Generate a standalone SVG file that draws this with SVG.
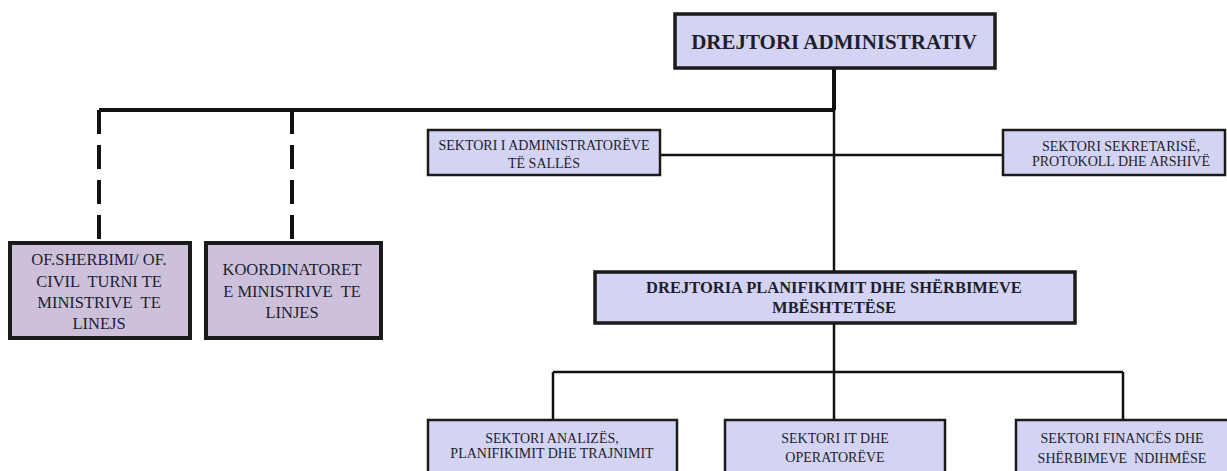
<svg xmlns="http://www.w3.org/2000/svg" width="1227" height="471" viewBox="0 0 1227 471">
<style>
.bg{fill:#ffffff}
.blue{fill:#d3d3f3;stroke:#1a1a1a;stroke-width:2.5}
.main{fill:#d3d3f3;stroke:#1a1a1a;stroke-width:3.5}
.purple{fill:#ccc0da;stroke:#1a1a1a;stroke-width:4}
text{fill:#1e1e2e;text-anchor:middle;white-space:pre}
.b{font-weight:bold}
.s{font-size:14px}
.m{font-size:16.5px}
.c{stroke:#111;fill:none;stroke-width:2.5}
.thick{stroke:#111;fill:none;stroke-width:4}
.dash{stroke:#111;fill:none;stroke-width:4;stroke-dasharray:24 11}
</style>
<rect class="bg" width="1227" height="471"/>
<g id="connectors">
  <path class="thick" d="M834 68 V110 M99 110 H834"/>
  <path class="c" d="M834 110 V272"/>
  <path class="dash" d="M99 110 V243"/>
  <path class="dash" d="M292 110 V243"/>
  <path class="c" d="M660 155 H1003"/>
  <path class="c" d="M834 323 V420 M553 372 H1123 M553 372 V420 M1123 372 V420"/>
</g>
<g font-family="Liberation Serif, Times New Roman, serif">
<g id="n-dir-admin">
  <rect class="main" x="675" y="14" width="320" height="54"/>
  <text class="b" x="834" y="49" font-size="21">DREJTORI ADMINISTRATIV</text>
</g>
<g id="n-ofsherbimi">
  <rect class="purple" x="10" y="243" width="180" height="95"/>
  <text class="m" x="99" y="265">OF.SHERBIMI/ OF.</text>
  <text class="m" x="99" y="287">CIVIL  TURNI TE</text>
  <text class="m" x="99" y="308">MINISTRIVE  TE</text>
  <text class="m" x="99" y="329">LINEJS</text>
</g>
<g id="n-koordinatoret">
  <rect class="purple" x="206" y="243" width="175" height="95"/>
  <text class="m" x="292" y="275">KOORDINATORET</text>
  <text class="m" x="292" y="297">E MINISTRIVE  TE</text>
  <text class="m" x="292" y="318">LINJES</text>
</g>
<g id="n-administratoreve">
  <rect class="blue" x="428" y="130" width="232" height="45"/>
  <text class="s" x="544" y="150">SEKTORI I ADMINISTRATORËVE</text>
  <text class="s" x="544" y="168">TË SALLËS</text>
</g>
<g id="n-sekretarise">
  <rect class="blue" x="1003" y="130" width="222" height="45"/>
  <text class="s" x="1121" y="151">SEKTORI SEKRETARISË,</text>
  <text class="s" x="1121" y="166">PROTOKOLL DHE ARSHIVË</text>
</g>
<g id="n-drejtoria-planifikimit">
  <rect class="main" x="595" y="272" width="480" height="51"/>
  <text class="b" x="834" y="293" font-size="16.5">DREJTORIA PLANIFIKIMIT DHE SHËRBIMEVE</text>
  <text class="b" x="834" y="313" font-size="16.5">MBËSHTETËSE</text>
</g>
<g id="n-analizes">
  <rect class="blue" x="428" y="420" width="249" height="60"/>
  <text class="s" x="552" y="443">SEKTORI ANALIZËS,</text>
  <text class="s" x="552" y="458">PLANIFIKIMIT DHE TRAJNIMIT</text>
</g>
<g id="n-it">
  <rect class="blue" x="725" y="420" width="220" height="60"/>
  <text class="s" x="835" y="443">SEKTORI IT DHE</text>
  <text class="s" x="835" y="462">OPERATORËVE</text>
</g>
<g id="n-finances">
  <rect class="blue" x="1016" y="420" width="215" height="60"/>
  <text class="s" x="1122" y="443">SEKTORI FINANCËS DHE</text>
  <text class="s" x="1122" y="463">SHËRBIMEVE  NDIHMËSE</text>
</g>
</g>
</svg>
